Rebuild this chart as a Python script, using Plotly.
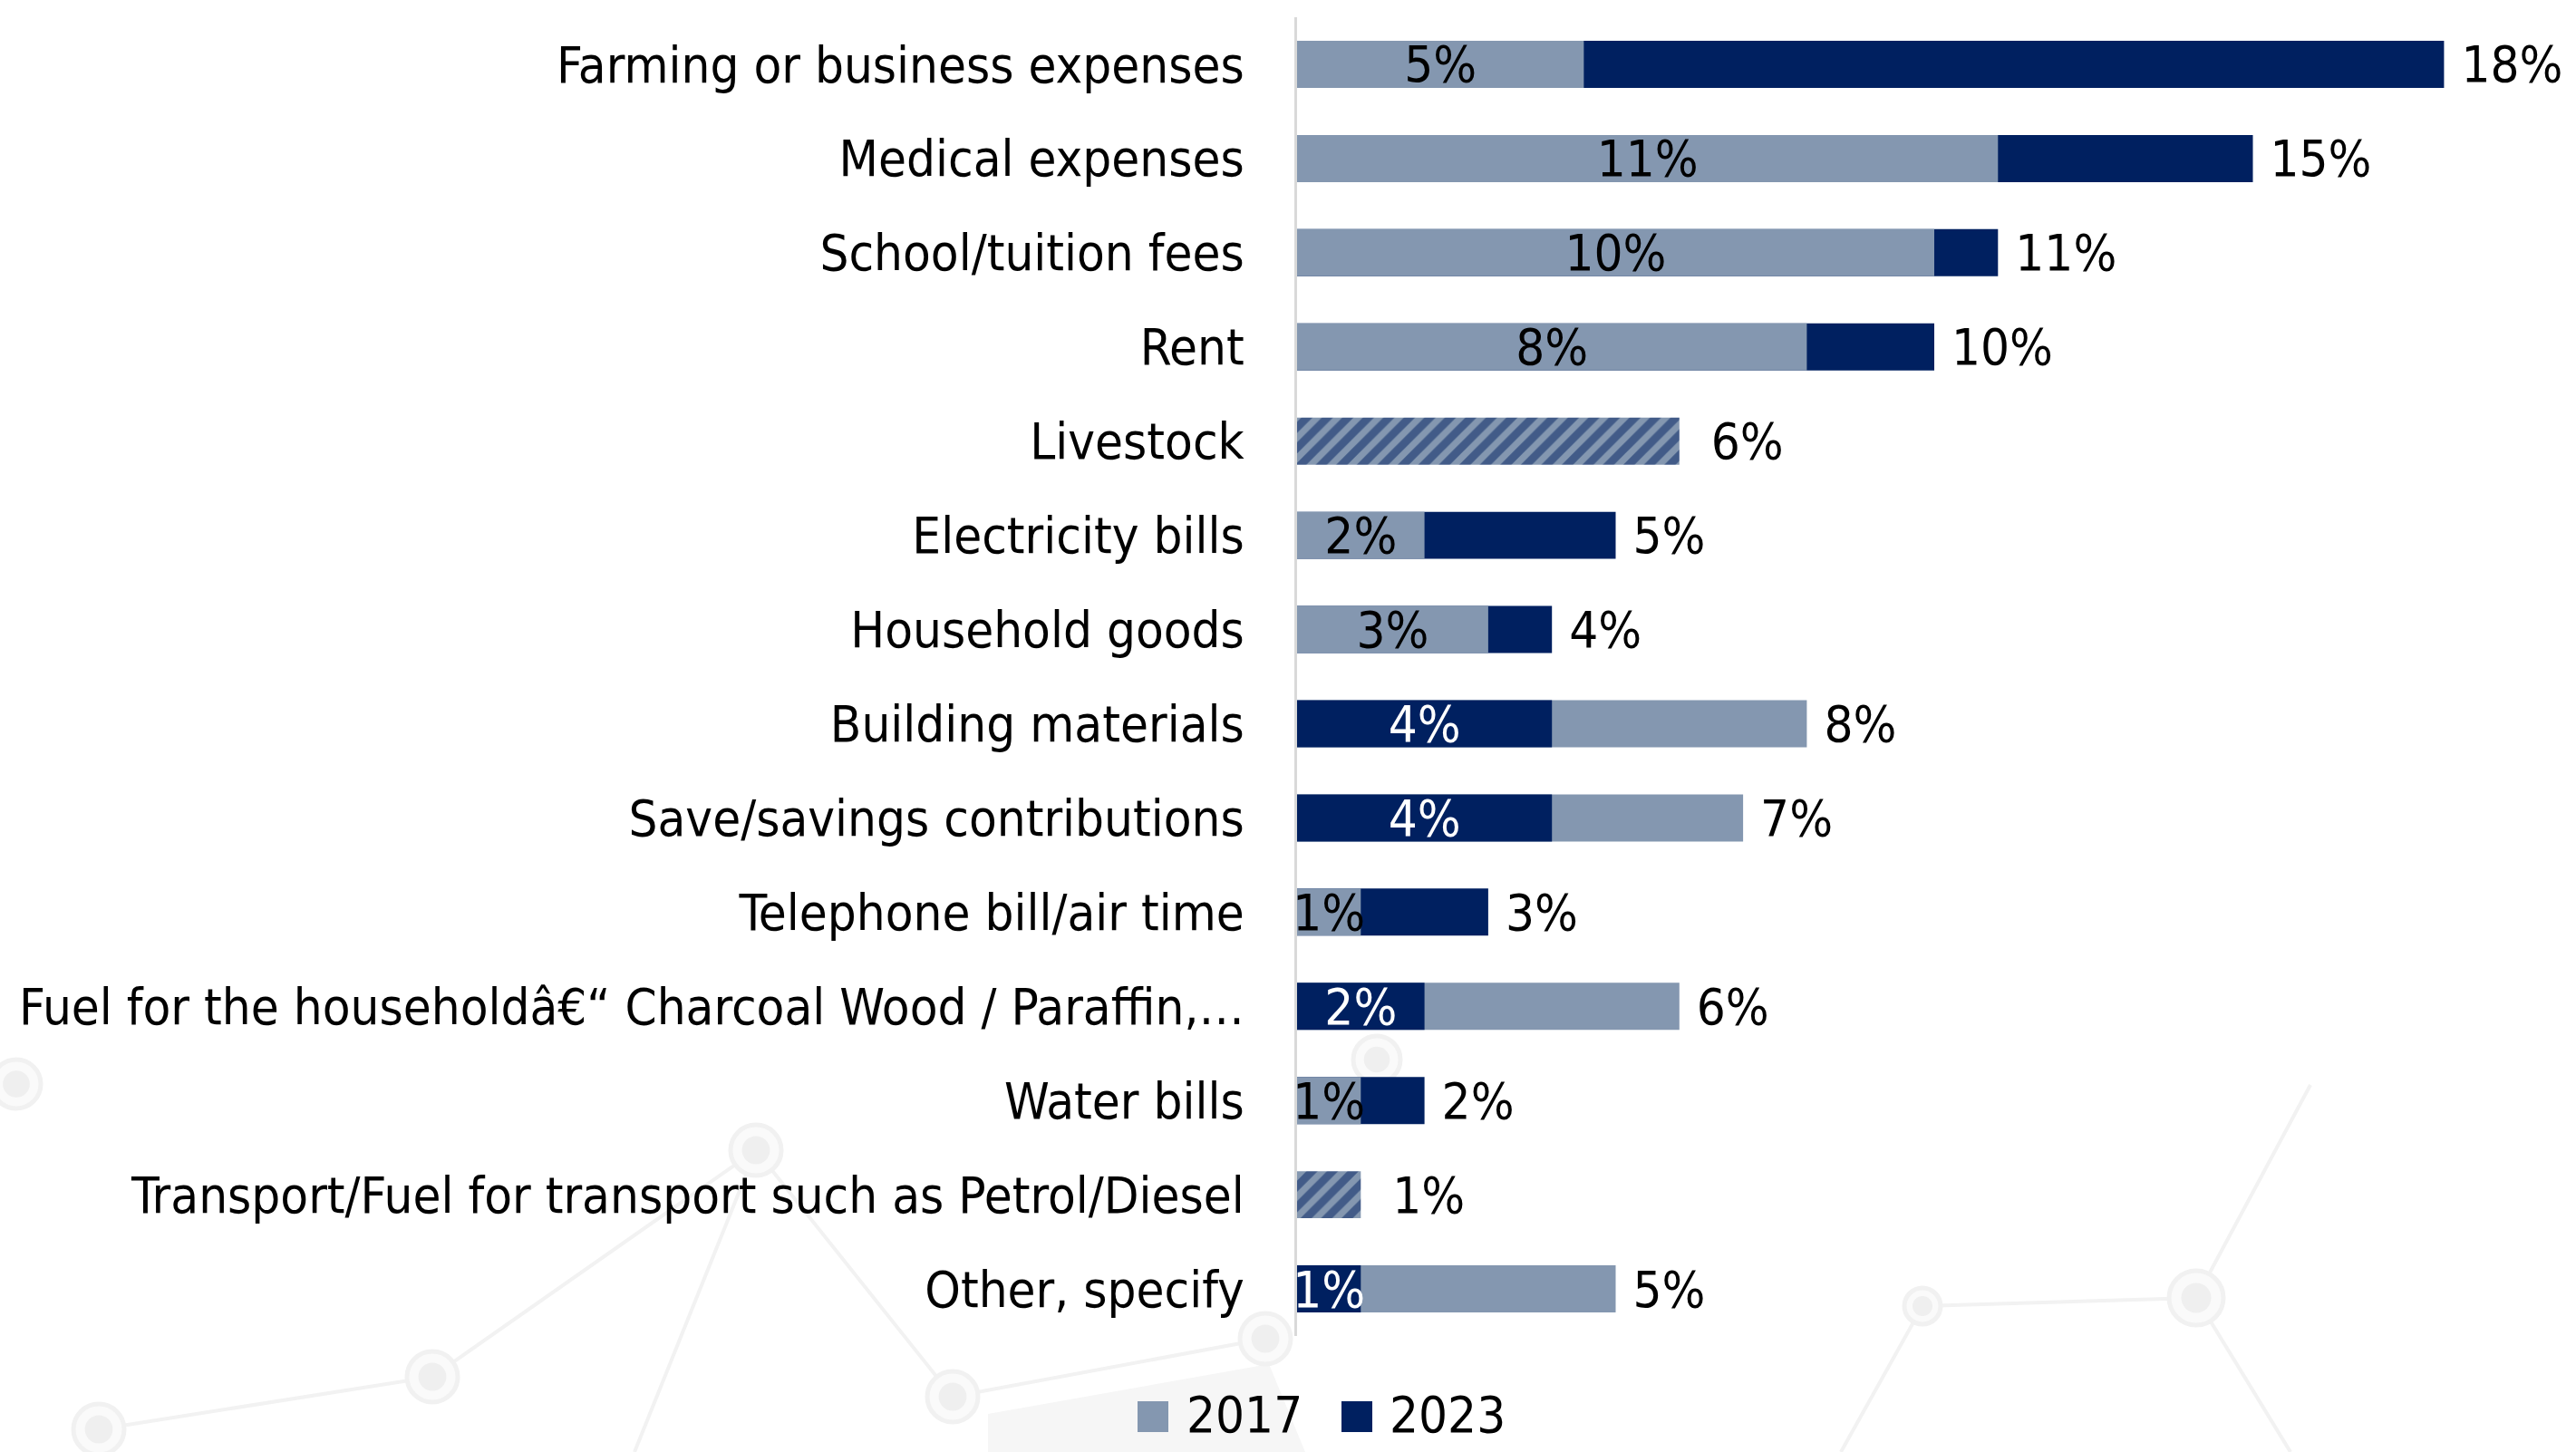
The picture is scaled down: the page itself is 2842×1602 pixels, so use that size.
import plotly.graph_objects as go

# Spending categories and shares (%) for the two survey rounds
categories = [
    "Farming or business expenses",
    "Medical expenses",
    "School/tuition fees",
    "Rent",
    "Livestock",
    "Electricity bills",
    "Household goods",
    "Building materials",
    "Save/savings contributions",
    "Telephone bill/air time",
    "Fuel for the household\u00e2\u20ac\u201c Charcoal Wood / Paraffin,\u2026",
    "Water bills",
    "Transport/Fuel for transport such as Petrol/Diesel",
    "Other, specify",
]
share_2017 = [4.5, 11, 10, 8, 6, 2, 3, 8, 7, 1, 6, 1, 1, 5]
share_2023 = [18, 15, 11, 10, 6, 5, 4, 4, 4, 3, 2, 2, 1, 1]
years = ["2017", "2023"]

LIGHT = "#8497B0"
DARK = "#002060"
FONT = "DejaVu Sans Condensed, Liberation Sans Narrow, sans-serif"
FS = 56

W, H = 2842, 1602
ML, MR, MT, MB = 1431, 0, 19, 128
PW, PH = W - ML - MR, H - MT - MB


def px(x):
    return (x - ML) / PW


def py(y):
    return (H - MB - y) / PH


# Longer bar of each pair sits behind, shorter one in front; equal pairs are hatched
back_x, back_c = [], []
front_x, front_c, front_tc = [], [], []
tie_x = []
for a, b in zip(share_2017, share_2023):
    if a == b:
        back_x.append(None); back_c.append(LIGHT)
        front_x.append(None); front_c.append(LIGHT); front_tc.append("black")
        tie_x.append(a)
    else:
        tie_x.append(None)
        back_x.append(max(a, b))
        back_c.append(DARK if b > a else LIGHT)
        front_x.append(min(a, b))
        front_c.append(LIGHT if b > a else DARK)
        front_tc.append("black" if b > a else "white")

fig = go.Figure()

fig.add_trace(go.Bar(
    y=categories, x=back_x, orientation="h", width=0.5,
    marker=dict(color=back_c, line=dict(width=0)),
    texttemplate="\u00a0%{x:.0f}%", textposition="outside",
    textfont=dict(family=FONT, size=FS, color="black"),
    cliponaxis=False, showlegend=False, hoverinfo="skip",
))
fig.add_trace(go.Bar(
    y=categories, x=tie_x, orientation="h", width=0.5,
    marker=dict(color=LIGHT, line=dict(width=0),
                pattern=dict(shape="/", fgcolor=DARK, bgcolor=LIGHT,
                             size=16, solidity=0.55, fillmode="overlay")),
    texttemplate="\u00a0\u00a0%{x:.0f}%", textposition="outside",
    textfont=dict(family=FONT, size=FS, color="black"),
    cliponaxis=False, showlegend=False, hoverinfo="skip",
))
fig.add_trace(go.Bar(
    y=categories, x=front_x, orientation="h", width=0.5,
    marker=dict(color=front_c, line=dict(width=0)),
    texttemplate="%{x:.0f}%", textposition="inside", insidetextanchor="middle",
    textangle=0, constraintext="none",
    textfont=dict(family=FONT, size=FS, color=front_tc),
    cliponaxis=False, showlegend=False, hoverinfo="skip",
))

# Faint network decoration in the background
shapes = []
bg_line = "#f2f2f2"
shapes.append(dict(type="path", xref="paper", yref="paper", layer="below",
                   path="M {} {} L {} {} L {} {} L {} {} Z".format(
                       px(1090), py(1560), px(1400), py(1505),
                       px(1440), py(1602), px(1090), py(1602)),
                   fillcolor="#f6f6f6", line=dict(width=0)))
nodes = [(18, 1196, 27), (834, 1269, 28), (477, 1519, 28), (109, 1577, 28),
         (1051, 1541, 28), (1396, 1477, 28), (2121, 1441, 20), (2423, 1432, 30),
         (1519, 1169, 26)]
links = [(1, 2), (2, 3), (1, 4), (4, 5), (6, 7)]
segs = []
for i, j in links:
    segs.append((nodes[i][0], nodes[i][1], nodes[j][0], nodes[j][1]))
segs += [(2423, 1432, 2549, 1197), (2423, 1432, 2527, 1602),
         (2121, 1441, 2031, 1602), (834, 1269, 700, 1602)]
for x0, y0, x1, y1 in segs:
    shapes.append(dict(type="line", xref="paper", yref="paper", layer="below",
                       x0=px(x0), y0=py(y0), x1=px(x1), y1=py(y1),
                       line=dict(color=bg_line, width=4)))
for x, y, r in nodes:
    shapes.append(dict(type="circle", xref="paper", yref="paper", layer="below",
                       x0=px(x - r), x1=px(x + r), y0=py(y + r), y1=py(y - r),
                       fillcolor="#fafafa", line=dict(color="#f1f1f1", width=5)))
    ri = r * 0.55
    shapes.append(dict(type="circle", xref="paper", yref="paper", layer="below",
                       x0=px(x - ri), x1=px(x + ri), y0=py(y + ri), y1=py(y - ri),
                       fillcolor="#efefef", line=dict(width=0)))

# Legend swatches and labels
annotations = []
for (sx, tx), name, col in zip([(1255, 1307), (1480, 1531)], years, [LIGHT, DARK]):
    shapes.append(dict(type="rect", xref="paper", yref="paper",
                       x0=px(sx), x1=px(sx + 34), y0=py(1580), y1=py(1546),
                       fillcolor=col, line=dict(width=0)))
    annotations.append(dict(xref="paper", yref="paper", x=px(tx), y=py(1560),
                            xanchor="left", yanchor="middle", showarrow=False,
                            text=name, font=dict(family=FONT, size=FS, color="black")))

fig.update_layout(
    width=W, height=H,
    margin=dict(l=ML, r=MR, t=MT, b=MB, pad=0, autoexpand=False),
    paper_bgcolor="white", plot_bgcolor="rgba(0,0,0,0)",
    barmode="overlay", bargap=0.5,
    uniformtext=dict(minsize=FS, mode="show"),
    showlegend=False,
    shapes=shapes, annotations=annotations,
    font=dict(family=FONT, size=FS, color="black"),
)
fig.update_xaxes(range=[0, PW / 70.3], visible=False, fixedrange=True)
fig.update_yaxes(
    categoryorder="array", categoryarray=categories, autorange="reversed",
    showline=True, linecolor="#d9d9d9", linewidth=3, showgrid=False,
    zeroline=False, ticks="", ticklabelstandoff=44, automargin=False,
    tickfont=dict(family=FONT, size=FS, color="black"),
)

fig.write_html("out.html")
